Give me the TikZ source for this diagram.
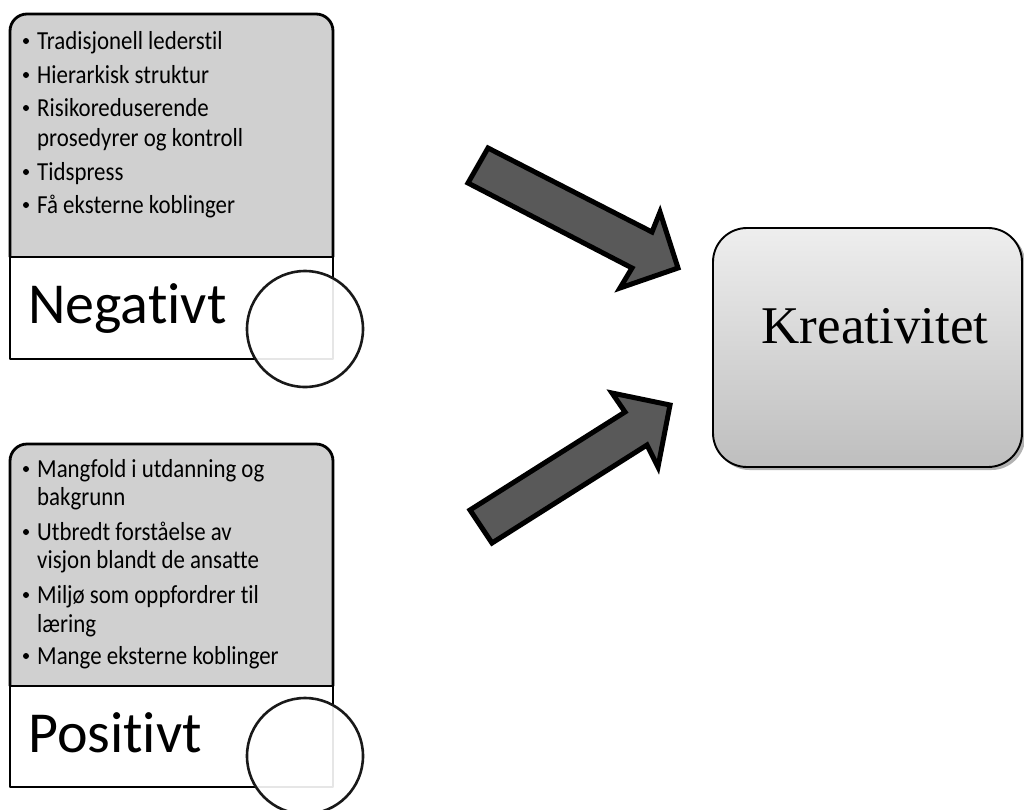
\documentclass[tikz,border=0pt]{standalone}
\usepackage{fontspec}
\setmainfont{Carlito}[Ligatures=NoCommon]
\newfontfamily\listface{Carlito}[Ligatures=NoCommon,FakeStretch=0.88]
\newfontfamily\serifface{Liberation Serif}
\definecolor{boxgray}{RGB}{208,208,208}
\definecolor{arrowgray}{RGB}{89,89,89}
\definecolor{ktop}{RGB}{238,238,238}
\definecolor{kbottom}{RGB}{190,190,190}
\begin{document}
\begin{tikzpicture}[x=1pt,y=-1pt,
  listfill/.style={fill=boxgray},
  frame/.style={draw=black,line width=2.8pt,line join=round},
  item/.style={anchor=base west,inner sep=0pt,
    font=\listface\fontsize{26}{30}\selectfont},
  bulletdot/.style={fill=black},
  caption/.style={anchor=base west,inner sep=0pt,font=\fontsize{58}{60}\selectfont},
  lens/.style={draw=black!90,line width=2.6pt,fill=white,fill opacity=0.9},
  blockarrow/.style={fill=arrowgray,draw=black,line width=5pt,line join=miter},
  kbox/.style={draw=black,line width=1.9pt,rounded corners=34pt,
    top color=ktop,bottom color=kbottom,minimum width=309pt,minimum height=239pt},
  kshadow/.style={fill=black,opacity=0.3,rounded corners=34pt}]
\useasboundingbox (0,0) rectangle (1024,809);

% ---- Negativt panel ----
\path[listfill,rounded corners=17pt] (10,257) -- (10,14) -- (333,14) -- (333,257) -- cycle;
\fill[listfill] (10,240) rectangle (333,257);
\draw[frame] (10,257) rectangle (333,359);
\draw[frame,rounded corners=17pt] (10,257) -- (10,14) -- (333,14) -- (333,257);
\draw[frame] (10,257) -- (333,257);

\node[item] (n1) at (37,49) {Tradisjonell lederstil};
\node[item] (n2) at (37,83) {Hierarkisk struktur};
\node[item] (n3) at (37,116) {Risikoreduserende};
\node[item] (n3b) at (37,146) {prosedyrer og kontroll};
\node[item] (n4) at (37,180) {Tidspress};
\node[item] (n5) at (37,213) {Få eksterne koblinger};
\foreach \n in {n1,n2,n3,n4,n5}
  \fill[bulletdot] ([shift={(-11,-8)}]\n.base west) circle (3pt);

\node[caption] (neg) at (28,323) {Negativt};
\node[lens,circle,minimum size=116pt,inner sep=0pt] (negc) at (305,329) {};

% ---- Positivt panel ----
\path[listfill,rounded corners=17pt] (10,686) -- (10,444) -- (333,444) -- (333,686) -- cycle;
\fill[listfill] (10,670) rectangle (333,686);
\draw[frame] (10,686) rectangle (333,787);
\draw[frame,rounded corners=17pt] (10,686) -- (10,444) -- (333,444) -- (333,686);
\draw[frame] (10,686) -- (333,686);

\node[item] (p1) at (37,477) {Mangfold i utdanning og};
\node[item] (p1b) at (37,505) {bakgrunn};
\node[item] (p2) at (37,540) {Utbredt forståelse av};
\node[item] (p2b) at (37,568) {visjon blandt de ansatte};
\node[item] (p3) at (37,603) {Miljø som oppfordrer til};
\node[item] (p3b) at (37,632) {læring};
\node[item] (p4) at (37,664) {Mange eksterne koblinger};
\foreach \n in {p1,p2,p3,p4}
  \fill[bulletdot] ([shift={(-11,-8)}]\n.base west) circle (3pt);

\node[caption] (pos) at (28,752) {Positivt};
\node[lens,circle,minimum size=116pt,inner sep=0pt] (posc) at (305,756) {};

% ---- Kreativitet ----
\fill[kshadow] (715.5,230.5) rectangle (1025.5,470);
\node[kbox] (k) at (867.5,347.5) {};
\node[anchor=base,inner sep=0pt,font=\serifface\fontsize{53}{60}\selectfont] (kt) at (875,343) {Kreativitet};

% ---- block arrows ----
\draw[blockarrow] (488,148) -- (652,232) -- (660,212) -- (678,268) -- (620,288) -- (632,268) -- (468,183) -- cycle;
\draw[blockarrow] (470,510) -- (625,412) -- (612,393) -- (670,405) -- (658,467) -- (647,445) -- (492,543) -- cycle;
\end{tikzpicture}
\end{document}
